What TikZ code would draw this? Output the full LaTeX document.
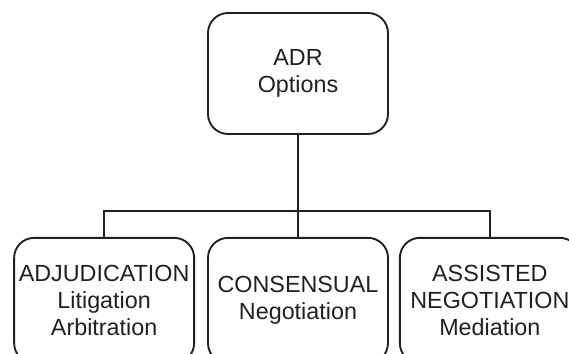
\documentclass[tikz,border=0pt]{standalone}
\usepackage{fontspec}
\setmainfont{Liberation Sans}
\usetikzlibrary{positioning}
\definecolor{ink}{HTML}{231F20}
\tikzset{
  box/.style={draw=ink,line width=1.4pt,rounded corners=15pt,align=center,text=ink,
    font=\fontsize{17.5}{20}\selectfont,inner sep=0pt,minimum width=135pt,minimum height=94pt},
  link/.style={draw=ink,line width=1.4pt}
}

\begin{document}
\begin{tikzpicture}[x=0.75pt,y=-0.75pt]
\clip (0,0) rectangle (569,354);
\node[box,minimum width=135pt,minimum height=90.75pt] (adr) at (298,73.5) {ADR\\Options};
\node[box,below=76.5pt of adr] (cons) {CONSENSUAL\\Negotiation};
\node[box,left=9pt of cons] (adj) {ADJUDICATION\\Litigation\\Arbitration};
\node[box,right=7.5pt of cons] (asst) {ASSISTED\\NEGOTIATION\\Mediation};
\coordinate[below=57pt of adr.south] (fork);
\draw[link] (adr.south) -- (fork) -- (cons.north);
\draw[link] (adj.north) |- (fork) -| (asst.north);
\end{tikzpicture}
\end{document}
